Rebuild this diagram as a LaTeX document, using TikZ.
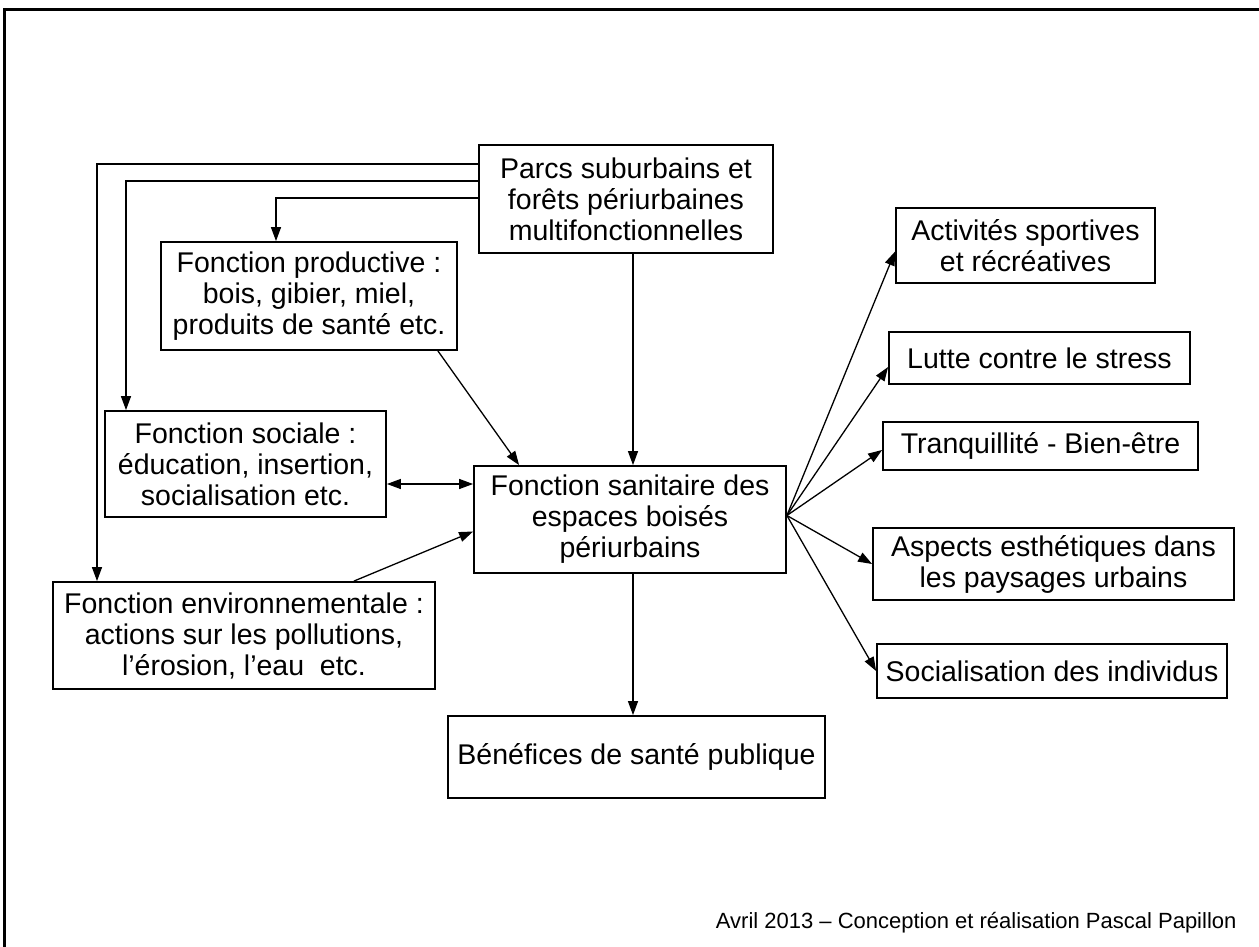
\documentclass[tikz,border=0pt]{standalone}
\usepackage{fontspec}
\setmainfont{Liberation Sans}
\usetikzlibrary{arrows.meta}

\begin{document}
\begin{tikzpicture}[x=1pt,y=-1pt,
  box/.style={draw, line width=1.8pt, align=center, inner sep=0pt, font=\fontsize{28.5}{31}\selectfont},
  arr/.style={line width=1.3pt, -{Triangle[length=14pt,width=10pt]}},
  dbl/.style={line width=1.3pt, {Triangle[length=14pt,width=10pt]}-{Triangle[length=14pt,width=10pt]}}]
  \useasboundingbox (0,0) rectangle (1259,947);
  %% frame
  \draw[line width=3pt] (1259,10) -- (4,10) -- (4,947);

  %% left side
  \node[box, minimum width=294pt, minimum height=108pt] (parcs) at (626,199) {Parcs suburbains et\\forêts périurbaines\\multifonctionnelles};
  \node[box, minimum width=296pt, minimum height=108pt] (prod) at (309,296) {Fonction productive :\\bois, gibier, miel,\\produits de santé etc.};
  \node[box, minimum width=281pt, minimum height=106pt] (soc) at (245.5,464) {Fonction sociale :\\éducation, insertion,\\socialisation etc.};
  \node[box, minimum width=382pt, minimum height=107pt] (env) at (244,635.5) {Fonction environnementale :\\actions sur les pollutions,\\l'érosion, l'eau~ etc.};
  \node[box, minimum width=312pt, minimum height=107pt] (sanit) at (630,519.5) {Fonction sanitaire des\\espaces boisés\\périurbains};
  \node[box, minimum width=377pt, minimum height=82pt] (bene) at (636.5,757) {Bénéfices de santé publique};

  %% right side
  \node[box, minimum width=259pt, minimum height=75pt] (act) at (1025.5,245.5) {Activités sportives\\et récréatives};
  \node[box, minimum width=301pt, minimum height=52pt] (lutte) at (1039.5,358) {Lutte contre le stress};
  \node[box, minimum width=315pt, minimum height=48pt] (tranq) at (1040.5,446) {Tranquillité - Bien-être};
  \node[box, minimum width=361pt, minimum height=72pt] (asp) at (1053.5,564) {Aspects esthétiques dans\\les paysages urbains};
  \node[box, minimum width=350pt, minimum height=54pt] (socind) at (1052,671) {Socialisation des individus};

  \node[anchor=base east, font=\fontsize{22}{26}\selectfont] (credit) at (1240,928) {Avril 2013 – Conception et réalisation Pascal Papillon};

  %% from the parcs box
  \coordinate (envbend) at (97,164);
  \coordinate (socbend) at (126,181);
  \coordinate (prodbend) at (276,198);
  \draw[arr] (parcs.west |- envbend) -- (envbend) -- (envbend |- env.north);
  \draw[arr] (parcs.west |- socbend) -- (socbend) -- (socbend |- soc.north);
  \draw[arr] (parcs.west |- prodbend) -- (prodbend) -- (prodbend |- prod.north);
  \coordinate (parcsout) at ([xshift=7pt]parcs.south);
  \draw[arr] (parcsout) -- (parcsout |- sanit.north);

  %% into the sanitaire box
  \draw[arr] ([xshift=-20pt]prod.south east) -- ([xshift=46pt]sanit.north west);
  \coordinate (socout) at ([yshift=-20pt]soc.east);
  \draw[dbl] (socout) -- (socout -| sanit.west);
  \draw[arr] ([xshift=-82pt]env.north east) -- ([yshift=-12pt]sanit.west);

  %% out of it
  \coordinate (sanitout) at ([xshift=3pt]sanit.south);
  \draw[arr] (sanitout) -- (sanitout |- bene.north);
  \foreach \t/\s in {act/-6pt, lutte/-9pt, tranq/-4pt, asp/0pt, socind/0pt}
    \draw[arr] ([yshift=4pt]sanit.east) -- ([yshift=\s]\t.west);
\end{tikzpicture}
\end{document}
